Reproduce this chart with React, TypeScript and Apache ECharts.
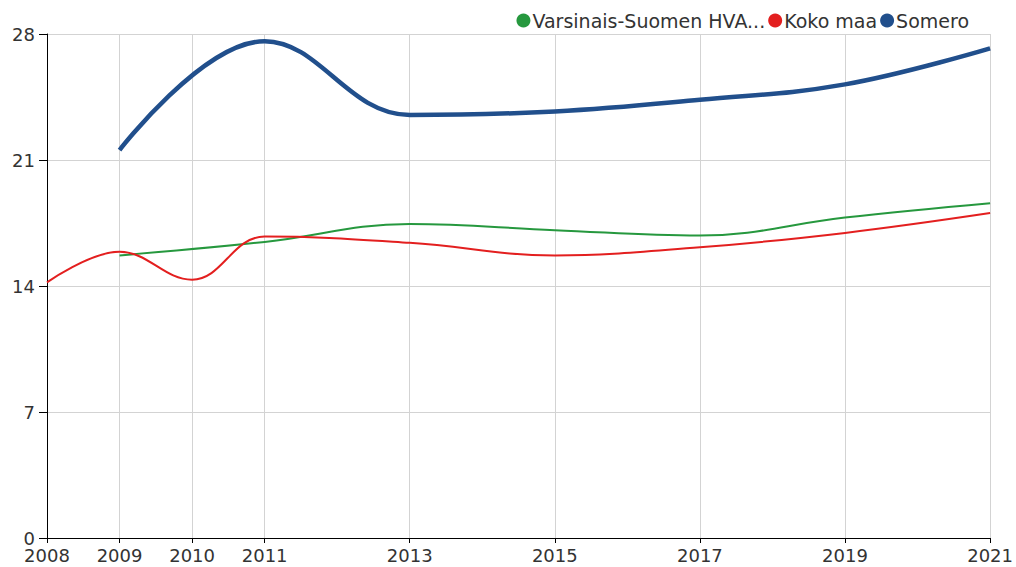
import React, { useEffect, useRef } from "react";
import * as echarts from "echarts";

const labelYears = [2008, 2009, 2010, 2011, 2013, 2015, 2017, 2019, 2021];
const gridYears = [2009, 2010, 2011, 2013, 2015, 2017, 2019, 2021];

const greenYears = [2009, 2011, 2013, 2015, 2017, 2019, 2021];
const greenValues = [15.7, 16.45, 17.45, 17.1, 16.8, 17.8, 18.6];

const redYears = [2008, 2009, 2010, 2011, 2013, 2015, 2017, 2019, 2021];
const redValues = [14.2, 15.9, 14.35, 16.75, 16.4, 15.7, 16.15, 16.95, 18.05];

const blueYears = [2009, 2011, 2013, 2015, 2017, 2019, 2021];
const blueValues = [21.55, 27.6, 23.5, 23.7, 24.35, 25.2, 27.2];

const seriesNames = ["Varsinais-Suomen HVA...", "Koko maa", "Somero"];
const colors = ["#26983e", "#e31f1f", "#214f8c"];

const FONT = "DejaVu Sans";

function pairs(xs: number[], ys: number[]) {
  return xs.map((x, i) => [x, ys[i]]);
}

export default function App() {
  const ref = useRef<HTMLDivElement>(null);
  useEffect(() => {
    document.body.style.margin = "0";
    if (!ref.current) return;
    const chart = echarts.init(ref.current, undefined, { renderer: "svg" });
    const mkSeries = (i: number, xs: number[], ys: number[], width: number, extra: any = {}) => ({
      type: "line",
      name: seriesNames[i],
      data: pairs(xs, ys),
      smooth: 0.4,
      showSymbol: false,
      symbol: "circle",
      color: colors[i],
      lineStyle: { width, color: colors[i] },
      z: 3 + i,
      ...extra,
    });
    chart.setOption({
      animation: false,
      grid: { left: 47, right: 23, top: 34, bottom: 29, containLabel: false },
      legend: {
        right: 42,
        top: 6,
        icon: "circle",
        itemWidth: 14,
        itemHeight: 14,
        itemGap: 3,
        textStyle: { fontFamily: FONT, fontSize: 19, color: "#333", padding: [0, 0, 0, -3] },
        data: seriesNames,
      },
      xAxis: {
        type: "value",
        min: 2008,
        max: 2021,
        interval: 1,
        axisLine: { show: true, lineStyle: { color: "#000", width: 1 } },
        axisTick: { show: true, length: 5, customValues: labelYears, lineStyle: { color: "#000" } },
        splitLine: { show: false },
        axisLabel: {
          fontFamily: FONT,
          fontSize: 18,
          color: "#333",
          margin: 8,
          customValues: labelYears,
          formatter: (v: number) => String(v),
        },
      },
      yAxis: {
        type: "value",
        min: 0,
        max: 28,
        interval: 7,
        axisLine: { show: true, lineStyle: { color: "#000", width: 1 } },
        axisTick: { show: true, length: 8, lineStyle: { color: "#000" } },
        splitLine: { show: true, lineStyle: { color: "#d3d3d3", width: 1 } },
        axisLabel: { fontFamily: FONT, fontSize: 18, color: "#333", margin: 12 },
      },
      series: [
        mkSeries(0, greenYears, greenValues, 2, {
          markLine: {
            silent: true,
            symbol: "none",
            label: { show: false },
            lineStyle: { color: "#d3d3d3", width: 1, type: "solid" },
            z: 1,
            data: gridYears.map((y) => ({ xAxis: y })),
          },
        }),
        mkSeries(1, redYears, redValues, 2),
        mkSeries(2, blueYears, blueValues, 4.5),
      ],
    });
    return () => chart.dispose();
  }, []);
  return <div ref={ref} style={{ width: 1016, height: 567 }} />;
}
